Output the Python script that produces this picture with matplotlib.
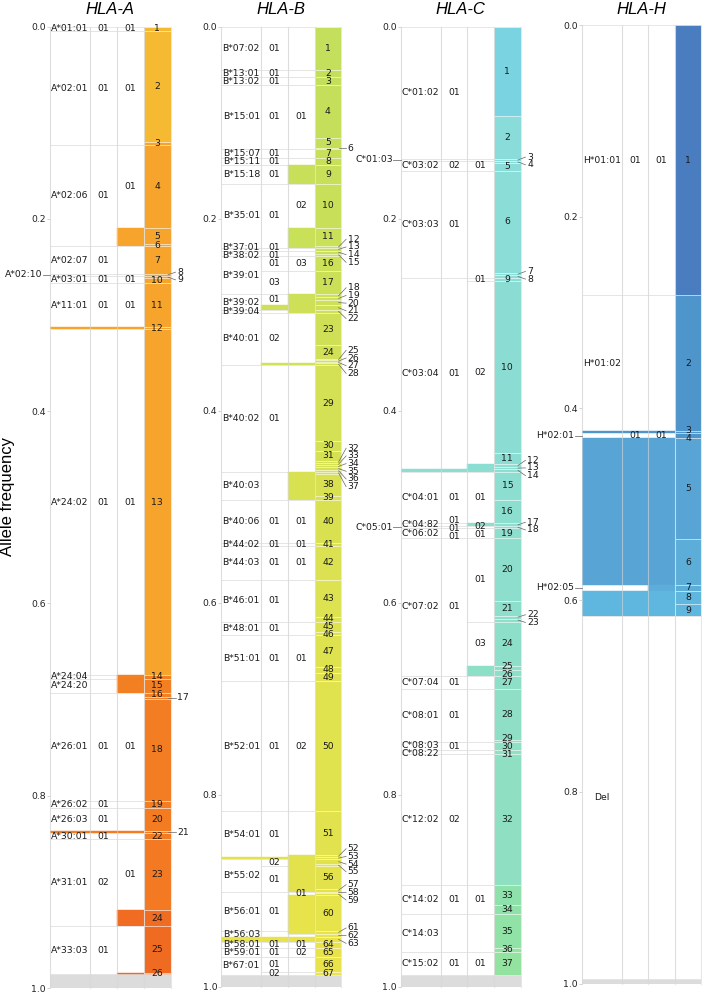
import matplotlib
matplotlib.use("Agg")
import matplotlib.pyplot as plt
from matplotlib.patches import Rectangle
from matplotlib.colors import to_rgb, to_hex
import numpy as np

N = None  # field not resolved -> cell filled with the haplotype colour

# ---------------- HLA-A ----------------
A_END = [0.0052, 0.1206, 0.1233, 0.2096, 0.2262, 0.2287, 0.2570, 0.2595, 0.2620, 0.2670,
         0.3125, 0.3150, 0.6745, 0.6785, 0.6930, 0.6970, 0.6990, 0.8056, 0.8132, 0.8368,
         0.8392, 0.8448, 0.9190, 0.9356, 0.9840, 0.9857]
A_ALLELE = ["A*01:01", "A*02:01", "A*02:01", "A*02:06", "A*02:06", "A*02:06", "A*02:07", "A*02:10",
            "A*03:01", "A*03:01", "A*11:01", N, "A*24:02", "A*24:04", "A*24:20", "A*26:01",
            "A*26:01", "A*26:01", "A*26:02", "A*26:03", N, "A*30:01", "A*31:01", "A*31:01",
            "A*33:03", "A*33:03"]
A_F2 = ["01", "01", "01", "01", "01", "01", "01", "", "01", "01", "01", N, "01", "", "", "01",
        "01", "01", "01", "01", N, "01", "02", "02", "01", "01"]
A_F3 = ["01", "01", "01", "01", N, N, "", "", "01", "01", "01", N, "01", N, N, "01",
        "01", "01", "", "", N, "", "01", N, "", N]
# (first segment, last segment, colour at first, colour at last)
A_COLOR_RANGES = [(1, 2, "#F5B932", "#F5B932"), (3, 13, "#F7A42D", "#F7A42D"),
                  (14, 23, "#F38023", "#F37A22"), (24, 26, "#EF6C22", "#EF6A21")]
A_OUT_NUM = [8, 9, 17, 21]
A_OUT_NAME = ["A*02:10"]

# ---------------- HLA-B ----------------
B_END = [0.0457, 0.0530, 0.0605, 0.1165, 0.1260, 0.1275, 0.1365, 0.1441, 0.1635, 0.2096,
         0.2285, 0.2304, 0.2335, 0.2365, 0.2390, 0.2547, 0.2790, 0.2815, 0.2845, 0.2904,
         0.2952, 0.2980, 0.3320, 0.3460, 0.3475, 0.3490, 0.3507, 0.3527, 0.4314, 0.4418,
         0.4522, 0.4545, 0.4568, 0.4591, 0.4614, 0.4636, 0.4660, 0.4885, 0.4925, 0.5380,
         0.5410, 0.5759, 0.6150, 0.6202, 0.6300, 0.6334, 0.6670, 0.6735, 0.6819, 0.8170,
         0.8628, 0.8645, 0.8670, 0.8720, 0.8745, 0.8975, 0.9009, 0.9025, 0.9044, 0.9418,
         0.9443, 0.9480, 0.9529, 0.9598, 0.9684, 0.9841, 0.9870]
B_ALLELE = ["B*07:02", "B*13:01", "B*13:02", "B*15:01", "B*15:01", "B*15:01", "B*15:07", "B*15:11",
            "B*15:18", "B*35:01", "B*35:01", "B*35:01", "B*37:01", "B*38:02", "B*38:02", "B*39:01",
            "B*39:01", "B*39:02", "B*39:02", "B*39:02", "B*39:02", "B*39:04", "B*40:01", "B*40:01",
            "B*40:01", "B*40:01", "B*40:01", "B*40:01", "B*40:02", "B*40:02", "B*40:02", "B*40:02",
            "B*40:02", "B*40:02", "B*40:02", "B*40:02", "B*40:03", "B*40:03", "B*40:03", "B*40:06",
            "B*44:02", "B*44:03", "B*46:01", "B*46:01", "B*48:01", "B*48:01", "B*51:01", "B*51:01",
            "B*51:01", "B*52:01", "B*54:01", "B*54:01", N, "B*55:02", "B*55:02", "B*55:02",
            "B*55:02", "B*56:01", "B*56:01", "B*56:01", "B*56:03", "B*56:03", N, "B*58:01",
            "B*59:01", "B*67:01", "B*67:01"]
B_F2 = ["01", "01", "01", "01", "01", "01", "01", "01", "01", "01", "01", "01", "01", "01", "01",
        "01", "03", "01", "01", "01", N, "", "02", "02", "02", "02", "02", N, "01", "01", "01",
        "01", "01", "01", "01", "01", "", "", "", "01", "01", "01", "01", "01", "01", "01", "01",
        "01", "01", "01", "01", "01", N, "02", "02", "01", "01", "01", "01", "01", "", "", N,
        "01", "01", "01", "02"]
B_F3 = ["", "", "", "01", "01", "01", "", "", N, "02", N, N, "", "", "", "03", "", N, N, N, N,
        N, "", "", "", "", "", N, "", "", "", "", "", "", "", "", N, N, N, "01", "01", "01", "",
        "", "", "", "01", "01", "01", "02", "", N, N, N, N, N, N, "01", "01", N, N, "", N, "01",
        "02", "", ""]
B_COLOR_RANGES = [(1, 67, "#C3DF5C", "#EAE349")]
B_OUT_NUM = [6, 12, 13, 14, 15, 18, 19, 20, 21, 22, 25, 26, 27, 28, 32, 33, 34, 35, 36, 37,
             52, 53, 54, 55, 57, 58, 59, 61, 62, 63]
B_OUT_NAME = []

# ---------------- HLA-C ----------------
C_END = [0.0935, 0.1379, 0.1400, 0.1420, 0.1500, 0.2565, 0.2590, 0.2615, 0.2650, 0.4442,
         0.4556, 0.4585, 0.4608, 0.4636, 0.4928, 0.5170, 0.5205, 0.5225, 0.5329, 0.5977,
         0.6133, 0.6165, 0.6195, 0.6653, 0.6700, 0.6757, 0.6902, 0.7425, 0.7450, 0.7536,
         0.7570, 0.8940, 0.9150, 0.9244, 0.9590, 0.9632, 0.9870]
C_ALLELE = ["C*01:02", "C*01:02", "C*01:03", "C*03:02", "C*03:02", "C*03:03", "C*03:03", "C*03:03",
            "C*03:04", "C*03:04", "C*03:04", "C*03:04", "C*03:04", N, "C*04:01", "C*04:01",
            "C*04:82", "C*05:01", "C*06:02", "C*07:02", "C*07:02", "C*07:02", "C*07:02", "C*07:02",
            "C*07:02", "C*07:02", "C*07:04", "C*08:01", "C*08:01", "C*08:03", "C*08:22", "C*12:02",
            "C*14:02", "C*14:02", "C*14:03", "C*14:03", "C*15:02"]
C_F2 = ["01", "01", "", "02", "02", "01", "01", "01", "01", "01", "01", "01", "01", N, "01", "01",
        "01", "01", "01", "01", "01", "01", "01", "01", "01", "01", "01", "01", "01", "01", "",
        "02", "01", "01", "", "", "01"]
C_F3 = ["", "", "", "01", "01", "", "", "", "01", "02", "02", N, N, N, "01", "01", N, "02", "01",
        "01", "01", "01", "01", "03", N, N, "", "", "", "", "", "", "01", "01", "", "", "01"]
C_COLOR_RANGES = [(1, 1, "#79D3E0", "#79D3E0"), (2, 32, "#8ADCDA", "#8FE0C3"),
                  (33, 37, "#8FE1AC", "#93E29F")]
C_OUT_NUM = [3, 4, 7, 8, 12, 13, 14, 17, 18, 22, 23]
C_OUT_NAME = ["C*01:03", "C*05:01"]

# ---------------- HLA-H ----------------
H_END = [0.2818, 0.4237, 0.4261, 0.4313, 0.5367, 0.5844, 0.5903, 0.6045, 0.6164, 0.9950]
H_ALLELE = ["H*01:01", "H*01:02", N, "H*02:01", N, N, "H*02:05", N, N, "Del"]
H_F2 = ["01", "", N, "01", N, N, "", N, N, ""]
H_F3 = ["01", "", N, "01", N, N, N, N, N, ""]
H_COLOR_RANGES = [(1, 1, "#4A7DBF", "#4A7DBF"), (2, 4, "#4E95CC", "#4E95CC"),
                  (5, 5, "#58A4D4", "#58A4D4"), (6, 7, "#5CAED9", "#5CAED9"),
                  (8, 9, "#5FB6DE", "#5FB6DE")]
H_NUMBERED = 9  # the last block (deletion) carries no number
H_OUT_NUM = []
H_OUT_NAME = ["H*02:01", "H*02:05"]

W, HGT = 702, 992
GRID = "#E3E3E3"
GAP = 0.0085
FS = 6.7
TXT = "#1A1A1A"


def repel(ys, gap=GAP, iters=600):
    y = np.array(ys, dtype=float)
    if len(y) < 2:
        return y
    order = np.argsort(y, kind="stable")
    v = y[order]
    for _ in range(iters):
        done = True
        for j in range(len(v) - 1):
            d = v[j + 1] - v[j]
            if d < gap - 1e-9:
                p = (gap - d) / 2
                v[j] -= p
                v[j + 1] += p
                done = False
        if done:
            break
    out = np.empty_like(v)
    out[order] = v
    return out


def seg_colors(n, ranges, numbered):
    cols = ["white"] * n
    for first, last, c0, c1 in ranges:
        a, b = np.array(to_rgb(c0)), np.array(to_rgb(c1))
        for i in range(first, last + 1):
            t = 0.0 if last == first else (i - first) / (last - first)
            cols[i - 1] = to_hex(a + (b - a) * t)
    return cols


def blocks(fields, k):
    # runs of segments sharing the same label path up to column k;
    # unresolved cells are merged while they share the same resolved prefix
    res = []
    for i, f in enumerate(fields):
        if f[k] is None:
            j = list(f).index(None)
            key = ("fill",) + tuple(f[:j])
        else:
            key = ("lab",) + tuple(f[:k + 1])
        if res and res[-1][2] == key:
            res[-1][1] = i
        else:
            res.append([i, i, key])
    return res


def draw_panel(ax, ends, allele, f2, f3, ranges, out_num, out_name, numbered=None):
    n = len(ends)
    numbered = n if numbered is None else numbered
    y_start = [0.0] + list(ends[:-1])
    fields = list(zip(allele, f2, f3))
    cols = seg_colors(n, ranges, numbered)

    # unassigned remainder at the bottom
    ax.add_patch(Rectangle((0, ends[-1]), 4.5, 1 - ends[-1], fc="#DCDCDC", ec="none", zorder=1))

    col_x = [(0.0, 1.5), (1.5, 1.0), (2.5, 1.0)]
    for k, (x0, w) in enumerate(col_x):
        inside = []
        for i0, i1, key in blocks(fields, k):
            y0, y1 = y_start[i0], ends[i1]
            if key[0] == "fill":
                ax.add_patch(Rectangle((x0, y0), w, y1 - y0, fc=cols[i0], ec=cols[i0],
                                       lw=0.3, zorder=1))
                continue
            ax.add_patch(Rectangle((x0, y0), w, y1 - y0, fc="white", ec=GRID, lw=0.6, zorder=1))
            txt = key[-1]
            if not txt:
                continue
            yc = (y0 + y1) / 2
            if k == 0 and txt in out_name:
                ax.text(-0.3, yc, txt, ha="right", va="center", fontsize=FS, color=TXT,
                        clip_on=False, zorder=4)
                ax.plot([-0.27, 0.0], [yc, yc], color="#777777", lw=0.6, clip_on=False, zorder=4)
            else:
                inside.append((yc, txt))
        if inside:
            ys = repel([p[0] for p in inside])
            for yy, (_, txt) in zip(ys, inside):
                ax.text(x0 + w / 2, yy, txt, ha="center", va="center", fontsize=FS,
                        color=TXT, zorder=4)

    # haplotype column
    in_y, in_t, out_y, out_t = [], [], [], []
    for i in range(n):
        y0, y1 = y_start[i], ends[i]
        ec = GRID if cols[i] == "white" else (1, 1, 1, 0.45)
        ax.add_patch(Rectangle((3.5, y0), 1.0, y1 - y0, fc=cols[i], ec=ec, lw=0.6, zorder=1))
        if i >= numbered:
            continue
        num = i + 1
        if num in out_num:
            out_y.append((y0 + y1) / 2)
            out_t.append(num)
        else:
            in_y.append((y0 + y1) / 2)
            in_t.append(num)
    for yy, t in zip(repel(in_y), in_t):
        ax.text(4.0, yy, str(t), ha="center", va="center", fontsize=FS, color=TXT, zorder=4)
    if out_y:
        lab_y = repel(out_y, gap=0.008)
        for yc, yy, t in zip(out_y, lab_y, out_t):
            ax.plot([4.4, 4.68], [yc, yy], color="#666666", lw=0.5, clip_on=False, zorder=4)
            ax.text(4.74, yy, str(t), ha="left", va="center", fontsize=FS, color=TXT,
                    clip_on=False, zorder=4)

    # column rules drawn over everything
    for x in [0.0, 1.5, 2.5, 3.5, 4.5]:
        ax.plot([x, x], [0, 1], color="#D8D8D8", alpha=0.6, lw=0.8, zorder=3, clip_on=False)

    ax.set_xlim(0, 4.5)
    ax.set_ylim(1, 0)
    ax.set_xticks([])
    ax.set_yticks([0, 0.2, 0.4, 0.6, 0.8, 1.0])
    ax.set_yticklabels(["0.0", "0.2", "0.4", "0.6", "0.8", "1.0"])
    ax.tick_params(axis="y", length=2, width=0.6, color="#CCCCCC", labelsize=FS,
                   labelcolor="#222222", pad=1)
    for s in ax.spines.values():
        s.set_visible(False)


PANELS = [
    ("HLA-A", 50.0, 170.7, 26.5, 988.0,
     (A_END, A_ALLELE, A_F2, A_F3, A_COLOR_RANGES, A_OUT_NUM, A_OUT_NAME, None)),
    ("HLA-B", 221.3, 341.3, 26.5, 987.0,
     (B_END, B_ALLELE, B_F2, B_F3, B_COLOR_RANGES, B_OUT_NUM, B_OUT_NAME, None)),
    ("HLA-C", 400.7, 520.7, 26.5, 987.0,
     (C_END, C_ALLELE, C_F2, C_F3, C_COLOR_RANGES, C_OUT_NUM, C_OUT_NAME, None)),
    ("HLA-H", 581.7, 701.3, 25.0, 983.5,
     (H_END, H_ALLELE, H_F2, H_F3, H_COLOR_RANGES, H_OUT_NUM, H_OUT_NAME, H_NUMBERED)),
]

fig = plt.figure(figsize=(W / 100, HGT / 100), dpi=100)
for title, left, right, top, bottom, args in PANELS:
    ax = fig.add_axes([left / W, 1 - bottom / HGT, (right - left) / W, (bottom - top) / HGT])
    draw_panel(ax, *args)
    fig.text((left + right) / 2 / W, 1 - 14.0 / HGT, title, ha="center", va="baseline",
             fontsize=12, style="italic", family="Liberation Sans")

fig.text(8 / W, 1 - 497 / HGT, "Allele frequency", rotation=90, ha="center", va="center",
         fontsize=12, family="Liberation Sans")

fig.savefig("out.png", dpi=100)
